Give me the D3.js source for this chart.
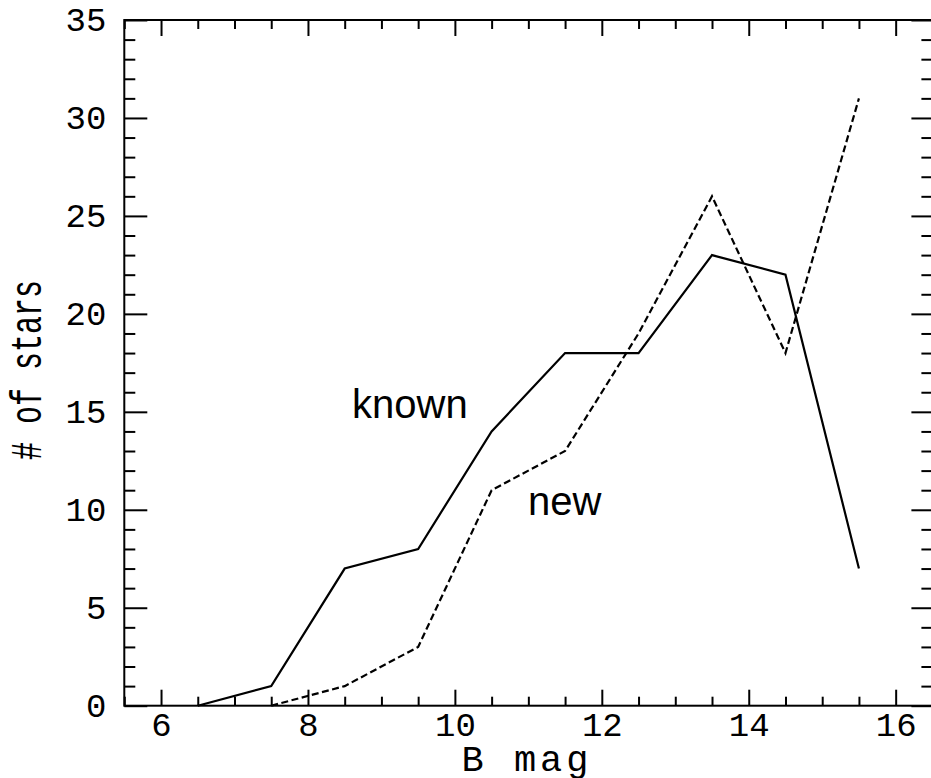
<!DOCTYPE html>
<html>
<head>
<meta charset="UTF-8">
<title>B mag histogram</title>
<style>
  body { margin: 0; background: #fff; }
  .tick text { font-family: "Liberation Mono", monospace; font-size: 34px; fill: #000; }
  .tick line { stroke: #000; stroke-width: 2; }
</style>
</head>
<body>
<script src="https://cdn.jsdelivr.net/npm/d3@7/dist/d3.min.js"></script>
<script>
// data
var knownMag = [6.5, 7.5, 8.5, 9.5, 10.5, 11.5, 12.5, 13.5, 14.5, 15.5];
var knownCount = [0, 1, 7, 8, 14, 18, 18, 23, 22, 7];
var newMag = [7.5, 8.5, 9.5, 10.5, 11.5, 12.5, 13.5, 14.5, 15.5];
var newCount = [0, 1, 3, 11, 13, 19, 26, 18, 31];
var xMajor = [6, 8, 10, 12, 14, 16];
var yMajor = [0, 5, 10, 15, 20, 25, 30, 35];

var W = 931, H = 778;
var pLeft = 124.3, pRight = 932.4, pTop = 20, pBottom = 705.7;

var svg = d3.select('body').append('svg')
  .attr('width', W)
  .attr('height', H);

var x = d3.scaleLinear().domain([5.5, 16.5]).range([pLeft, pRight]);
var y = d3.scaleLinear().domain([0, 35]).range([pBottom, pTop]);

var xMinor = d3.range(11, 34).map(function(i) { return i / 2; })
  .filter(function(v) { return xMajor.indexOf(v) < 0; });
var yMinor = d3.range(0, 36).filter(function(v) { return v % 5 !== 0; });

function addAxis(gen, tx, ty) {
  var g = svg.append('g')
    .attr('transform', 'translate(' + tx + ',' + ty + ')')
    .call(gen);
  g.select('.domain').remove();
  return g;
}

// bottom
addAxis(d3.axisBottom(x).tickValues(xMajor).tickSizeInner(-16).tickSizeOuter(0).tickPadding(6)
  .tickFormat(d3.format('d')), 0, pBottom);
addAxis(d3.axisBottom(x).tickValues(xMinor).tickSizeInner(-9).tickSizeOuter(0).tickFormat(''), 0, pBottom);
// top
addAxis(d3.axisTop(x).tickValues(xMajor).tickSizeInner(-16).tickSizeOuter(0).tickFormat(''), 0, pTop);
addAxis(d3.axisTop(x).tickValues(xMinor).tickSizeInner(-9).tickSizeOuter(0).tickFormat(''), 0, pTop);
// left
addAxis(d3.axisLeft(y).tickValues(yMajor).tickSizeInner(-23).tickSizeOuter(0).tickPadding(18)
  .tickFormat(d3.format('d')), pLeft, 0);
addAxis(d3.axisLeft(y).tickValues(yMinor).tickSizeInner(-11).tickSizeOuter(0).tickFormat(''), pLeft, 0);
// right
addAxis(d3.axisRight(y).tickValues(yMajor).tickSizeInner(-21).tickSizeOuter(0).tickFormat(''), pRight, 0);
addAxis(d3.axisRight(y).tickValues(yMinor).tickSizeInner(-11).tickSizeOuter(0).tickFormat(''), pRight, 0);

// frame
svg.append('rect')
  .attr('x', pLeft).attr('y', pTop)
  .attr('width', pRight - pLeft).attr('height', pBottom - pTop)
  .attr('fill', 'none').attr('stroke', '#000').attr('stroke-width', 2);

var line = d3.line()
  .x(function(d) { return x(d[0]); })
  .y(function(d) { return y(d[1]); });

svg.append('path')
  .datum(d3.zip(knownMag, knownCount))
  .attr('d', line)
  .attr('fill', 'none')
  .attr('stroke', '#000')
  .attr('stroke-width', 2.2);

svg.append('path')
  .datum(d3.zip(newMag, newCount))
  .attr('d', line)
  .attr('fill', 'none')
  .attr('stroke', '#000')
  .attr('stroke-width', 2.2)
  .attr('stroke-dasharray', '7,3.5');

// labels inside the plot
svg.append('text')
  .attr('x', 352).attr('y', 418)
  .style('font-family', '"Liberation Sans", Arial, sans-serif')
  .style('font-size', '40px')
  .text('known');
svg.append('text')
  .attr('x', 528).attr('y', 515)
  .style('font-family', '"Liberation Sans", Arial, sans-serif')
  .style('font-size', '40px')
  .text('new');

// axis titles
svg.append('text')
  .attr('x', 527).attr('y', 771)
  .attr('text-anchor', 'middle')
  .style('font-family', '"Liberation Mono", monospace')
  .style('font-size', '37px')
  .style('letter-spacing', '4px')
  .text('B mag');

svg.append('text')
  .attr('transform', 'translate(41,370) scale(1.45,1) rotate(-90)')
  .attr('text-anchor', 'middle')
  .style('font-family', '"Liberation Mono", monospace')
  .style('font-size', '30px')
  .text('# of stars');
</script>
</body>
</html>
